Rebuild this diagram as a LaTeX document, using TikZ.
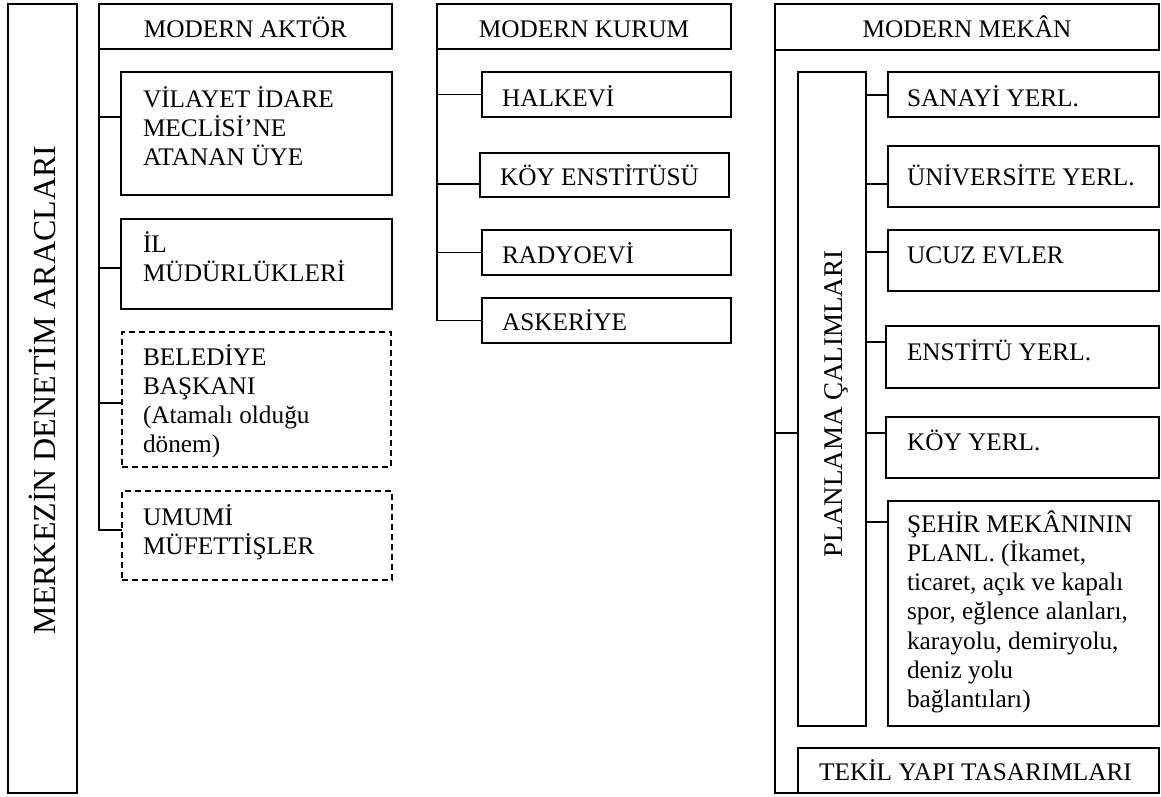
\documentclass[tikz,border=0pt]{standalone}
\usepackage{fontspec}
\setmainfont{Liberation Serif}
\usetikzlibrary{calc}
\newcommand\bodyfont{\fontsize{25.3}{29.3}\selectfont}
\newcommand\sttop{\rule{0pt}{24pt}}
\begin{document}
\begin{tikzpicture}[x=1pt,y=-1pt,
  box/.style={draw, line width=1.5pt, inner sep=0pt, outer sep=0pt, anchor=north west},
  dbox/.style={box, line width=1.3pt, dash pattern=on 6pt off 4pt},
  conn/.style={line width=1.5pt},
  txt/.style={inner sep=0pt, outer sep=0pt, anchor=north west, align=left, font=\bodyfont},
  ctxt/.style={inner sep=0pt, outer sep=0pt, anchor=base, font=\bodyfont},
  vtxt/.style={inner sep=0pt, outer sep=0pt, rotate=90}]
\useasboundingbox (0,0) rectangle (1161,796);

% left main box
\node[box, minimum width=69pt, minimum height=789pt] (L) at (8,4) {};
\node[vtxt, font=\fontsize{32}{36}\selectfont] (Lt) at (42,390) {MERKEZİN DENETİM ARACLARI};

% column 1: modern aktor
\node[box, minimum width=293pt, minimum height=45pt] (A0) at (99,4) {};
\node[ctxt] (A0t) at (245.5,37) {MODERN AKTÖR};
\node[box, minimum width=271pt, minimum height=123pt] (A1) at (121,72) {};
\node[txt] (A1t) at (143,83) {\sttop VİLAYET İDARE\\MECLİSİ’NE\\ATANAN ÜYE};
\node[box, minimum width=271pt, minimum height=90pt] (A2) at (121,219) {};
\node[txt] (A2t) at (143,228) {\sttop İL\\MÜDÜRLÜKLERİ};
\node[dbox, minimum width=269pt, minimum height=135pt] (A3) at (122,332) {};
\node[txt] (A3t) at (143,341) {\sttop BELEDİYE\\BAŞKANI\\(Atamalı olduğu\\dönem)};
\node[dbox, minimum width=270pt, minimum height=89pt] (A4) at (122,491) {};
\node[txt] (A4t) at (143,501) {\sttop UMUMİ\\MÜFETTİŞLER};

\draw[conn] (A0.south west) |- ([yshift=-45pt]A1.north west);
\draw[conn] (A0.south west) |- ([yshift=-49pt]A2.north west);
\draw[conn] (A0.south west) |- ([yshift=-71pt]A3.north west);
\draw[conn] (A0.south west) |- ([yshift=-39pt]A4.north west);

% column 2: modern kurum
\node[box, minimum width=294pt, minimum height=45pt] (B0) at (437,4) {};
\node[ctxt] (B0t) at (584,37) {MODERN KURUM};
\node[box, minimum width=249pt, minimum height=45pt] (B1) at (482,72) {};
\node[txt] (B1t) at (502,82) {\sttop HALKEVİ};
\node[box, minimum width=249pt, minimum height=44pt] (B2) at (480,153) {};
\node[txt] (B2t) at (500,161) {\sttop KÖY ENSTİTÜSÜ};
\node[box, minimum width=249pt, minimum height=45pt] (B3) at (482,230) {};
\node[txt] (B3t) at (502,239) {\sttop RADYOEVİ};
\node[box, minimum width=249pt, minimum height=45pt] (B4) at (482,298) {};
\node[txt] (B4t) at (502,306) {\sttop ASKERİYE};

\draw[conn] (B0.south west) |- (B1.west);
\draw[conn] (B0.south west) |- ([yshift=-31pt]B2.north west);
\draw[conn] (B0.south west) |- (B3.west);
\draw[conn] (B0.south west) |- (B4.west);

% column 3: modern mekan
\node[box, minimum width=384pt, minimum height=46pt] (C0) at (775,4) {};
\node[ctxt] (C0t) at (967,37) {MODERN MEKÂN};
\node[box, minimum width=361pt, minimum height=45pt] (T) at (798,748) {};
\node[ctxt] (Tt) at (975.5,780) {TEKİL YAPI TASARIMLARI};
\node[box, minimum width=68pt, minimum height=654pt] (P) at (798,72) {};
\node[vtxt, font=\fontsize{27}{31}\selectfont] (Pt) at (836,404) {PLANLAMA ÇALIMLARI};

\node[box, minimum width=271pt, minimum height=45pt] (S1) at (888,72) {};
\node[txt] (S1t) at (907,82) {\sttop SANAYİ YERL.};
\node[box, minimum width=271pt, minimum height=61pt] (S2) at (888,146) {};
\node[txt] (S2t) at (907,161) {\sttop ÜNİVERSİTE YERL.};
\node[box, minimum width=271pt, minimum height=61pt] (S3) at (888,230) {};
\node[txt] (S3t) at (907,239) {\sttop UCUZ EVLER};
\node[box, minimum width=273pt, minimum height=62pt] (S4) at (886,326) {};
\node[txt] (S4t) at (907,336) {\sttop ENSTİTÜ YERL.};
\node[box, minimum width=273pt, minimum height=61pt] (S5) at (886,417) {};
\node[txt] (S5t) at (907,426) {\sttop KÖY YERL.};
\node[box, minimum width=271pt, minimum height=225pt] (S6) at (888,501) {};
\node[txt] (S6t) at (907,508) {\sttop ŞEHİR MEKÂNININ\\PLANL. (İkamet,\\ticaret, açık ve kapalı\\spor, eğlence alanları,\\karayolu, demiryolu,\\deniz yolu\\bağlantıları)};

\draw[conn] (C0.south west) |- (T.south west);
\path ([yshift=-34pt]P.west) coordinate (pj);
\draw[conn] (pj) -- (C0.west |- pj);

\path ([yshift=-23pt]S1.north west) coordinate (s1j);
\path ([yshift=-38pt]S2.north west) coordinate (s2j);
\path ([yshift=-22pt]S3.north west) coordinate (s3j);
\path ([yshift=-16pt]S4.north west) coordinate (s4j);
\path ([yshift=-16pt]S5.north west) coordinate (s5j);
\path ([yshift=-21pt]S6.north west) coordinate (s6j);
\foreach \j in {s1j,s2j,s3j,s4j,s5j,s6j}{
  \draw[conn] (P.east |- \j) -- (\j);
}
\end{tikzpicture}
\end{document}
